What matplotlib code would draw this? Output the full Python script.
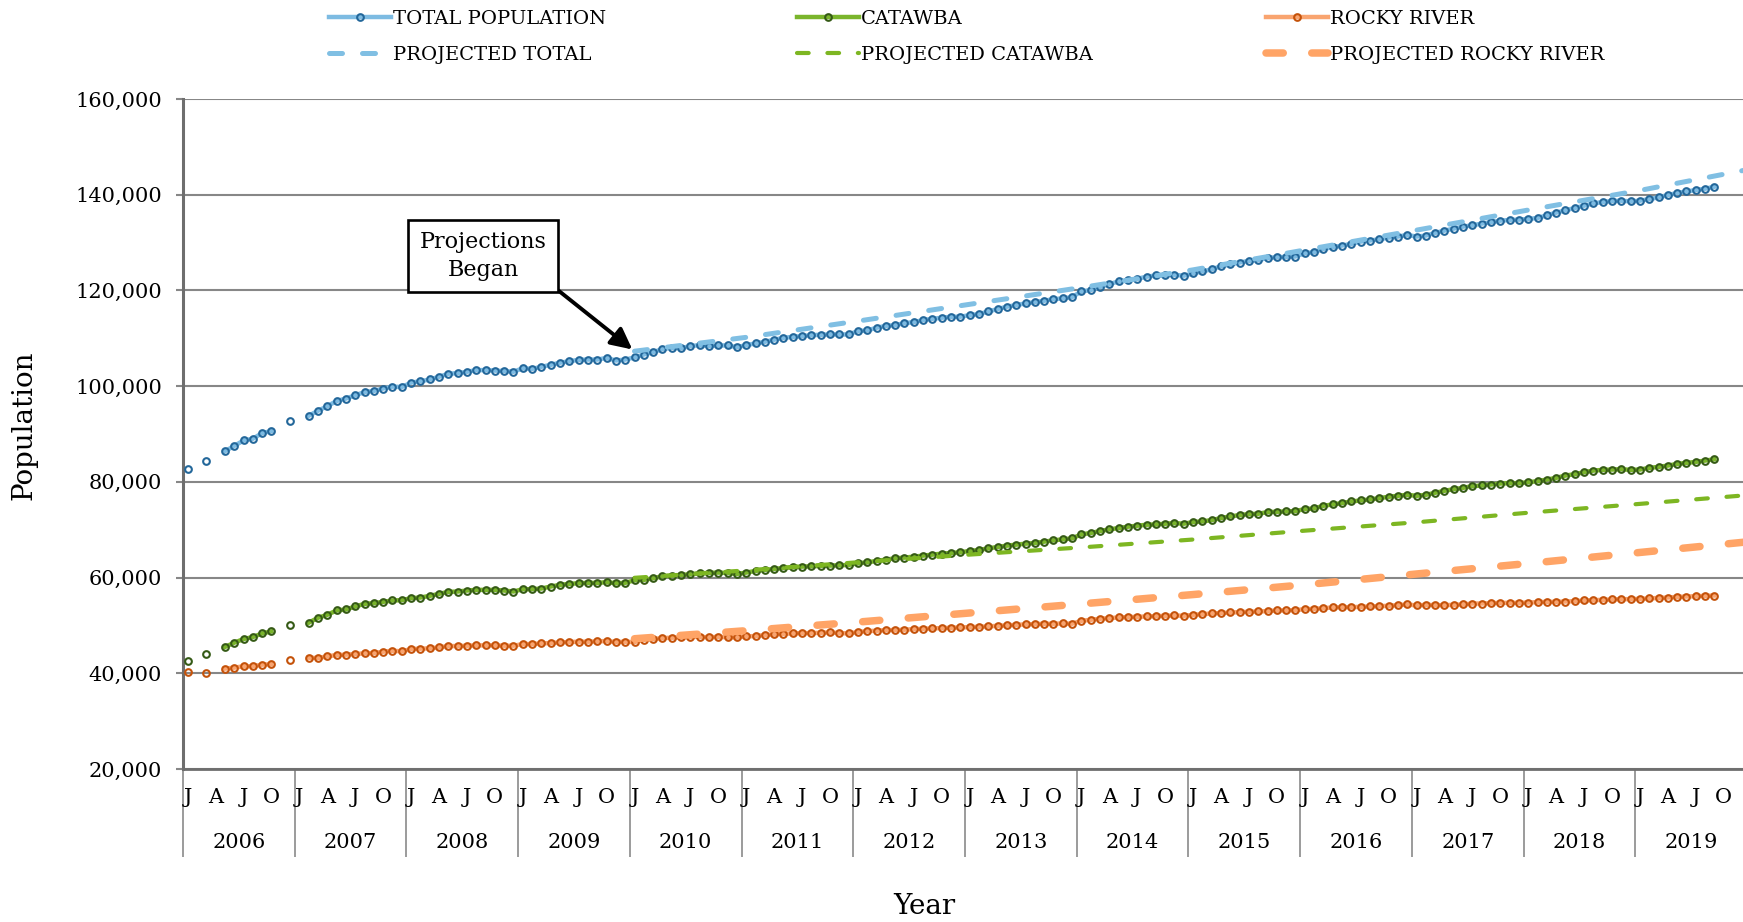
import numpy as np
import matplotlib
matplotlib.use('Agg')
import matplotlib.pyplot as plt
import matplotlib.transforms as mtransforms
from matplotlib.ticker import FuncFormatter

nan = np.nan

years = list(range(2006, 2020))
month_letters = ['J', 'A', 'J', 'O']
month_letter_pos = [0, 3, 6, 9]

# monthly values, Jan 2006 .. Sep 2019 (nan = month missing)
total = [
    82700, nan, 84300, nan, 86400, 87500, 88650, 89000, 90200, 90600, nan, 92750,
    nan, 93800, 94850, 95800, 96900, 97400, 98100, 98750, 99000, 99500, 99900, 99800,
    100750, 101000, 101400, 101950, 102600, 102700, 103000, 103350, 103350, 103250, 103150, 103000,
    103750, 103600, 104050, 104450, 104900, 105200, 105500, 105550, 105550, 105900, 105350, 105550,
    106000, 106600, 107100, 107750, 108000, 107900, 108400, 108550, 108400, 108500, 108500, 108150,
    108570, 108920, 109270, 109700, 110100, 110300, 110450, 110660, 110730, 110800, 110800, 110800,
    111500, 111640, 112200, 112600, 112750, 113170, 113380, 113800, 114080, 114290, 114500, 114500,
    114840, 115050, 115600, 116100, 116600, 116930, 117280, 117560, 117840, 118190, 118330, 118600,
    119800, 120070, 120700, 121320, 121880, 122090, 122440, 122860, 123140, 123140, 123280, 123070,
    123550, 124000, 124400, 125070, 125420, 125830, 126180, 126320, 126800, 126940, 127010, 127080,
    127780, 127990, 128680, 129030, 129380, 129720, 130210, 130420, 130690, 131040, 131250, 131600,
    131250, 131460, 132010, 132500, 132920, 133330, 133610, 133960, 134240, 134580, 134720, 134790,
    134930, 135140, 135690, 136250, 136740, 137220, 137710, 138190, 138470, 138680, 138750, 138610,
    138750, 139100, 139440, 139930, 140350, 140690, 140970, 141250, 141670,
]

catawba = [
    42500, nan, 44100, nan, 45490, 46390, 47150, 47570, 48330, 48750, nan, 50070,
    nan, 50560, 51600, 52220, 53130, 53330, 53960, 54510, 54650, 54930, 55210, 55280,
    55690, 55830, 56180, 56600, 57010, 57080, 57290, 57430, 57430, 57430, 57290, 57080,
    57570, 57570, 57710, 58130, 58470, 58680, 58820, 58890, 58890, 59030, 58820, 58890,
    59440, 59510, 59860, 60280, 60420, 60560, 60690, 60900, 60970, 61040, 60970, 60760,
    61040, 61390, 61600, 61810, 62010, 62150, 62290, 62360, 62430, 62500, 62570, 62640,
    62990, 63190, 63470, 63750, 64030, 64170, 64380, 64580, 64790, 65000, 65140, 65280,
    65560, 65760, 66110, 66390, 66670, 66880, 67080, 67220, 67500, 67780, 67990, 68190,
    69030, 69310, 69720, 70070, 70350, 70630, 70830, 71040, 71110, 71250, 71390, 71250,
    71600, 71740, 72010, 72430, 72780, 73060, 73260, 73330, 73680, 73750, 73820, 73890,
    74310, 74440, 75000, 75280, 75560, 75900, 76110, 76320, 76600, 76880, 77080, 77290,
    77080, 77290, 77710, 78130, 78470, 78750, 79100, 79240, 79440, 79650, 79720, 79720,
    79930, 80140, 80490, 80830, 81320, 81600, 82010, 82360, 82500, 82570, 82640, 82500,
    82570, 82920, 83130, 83400, 83750, 83960, 84170, 84440, 84720,
]

rocky = [
    40280, nan, 40140, nan, 40970, 41180, 41460, 41460, 41810, 41880, nan, 42710,
    nan, 43260, 43190, 43540, 43820, 43890, 44030, 44170, 44240, 44510, 44720, 44580,
    45070, 45140, 45210, 45420, 45690, 45690, 45760, 45830, 45830, 45830, 45760, 45760,
    46110, 46110, 46250, 46320, 46460, 46530, 46600, 46600, 46670, 46740, 46530, 46600,
    46530, 47010, 47150, 47360, 47430, 47500, 47570, 47640, 47500, 47640, 47500, 47500,
    47710, 47780, 47990, 48130, 48260, 48330, 48400, 48400, 48470, 48540, 48400, 48330,
    48610, 48820, 48890, 49030, 49030, 49100, 49240, 49310, 49380, 49440, 49510, 49580,
    49650, 49720, 49790, 49930, 50000, 50140, 50210, 50280, 50350, 50350, 50420, 50350,
    50970, 51180, 51390, 51530, 51670, 51740, 51810, 51880, 51940, 52010, 52080, 52010,
    52220, 52360, 52500, 52600, 52710, 52780, 52850, 52920, 52990, 53130, 53130, 53190,
    53400, 53470, 53610, 53750, 53820, 53820, 53890, 53960, 54030, 54100, 54240, 54380,
    54170, 54310, 54240, 54240, 54310, 54380, 54580, 54580, 54650, 54720, 54720, 54720,
    54790, 54860, 54930, 54930, 55000, 55070, 55210, 55280, 55350, 55420, 55490, 55490,
    55560, 55630, 55760, 55830, 55970, 56040, 56110, 56180, 56250,
]

# projections, one value each January from 2010 on
proj_start = 48
proj_total = [107300, 110200, 113600, 117100, 120600, 124300, 128450, 132600, 136800, 140900, 145400]
proj_catawba = [59950, 61500, 63200, 64800, 66300, 67950, 69800, 71550, 73550, 75400, 77300]
proj_rocky = [47220, 48900, 50700, 52600, 54500, 56450, 58500, 60750, 62950, 65250, 67550]

plt.rcParams['font.family'] = ['DejaVu Serif']

W, H = 1743, 922
fig = plt.figure(figsize=(W / 100, H / 100), dpi=100)
ax = fig.add_axes([183 / W, 153 / H, 1564 / W, 670 / H])

x = np.arange(len(total))
px = proj_start + 12 * np.arange(len(proj_total))

l_tot, = ax.plot(x, total, color='#7dbbe2', lw=3.2, marker='o', ms=4.8, mfc='none',
                 mec='#23679a', mew=1.5, label='TOTAL POPULATION', zorder=3)
l_cat, = ax.plot(x, catawba, color='#7ab52c', lw=3.2, marker='o', ms=4.8, mfc='none',
                 mec='#355a16', mew=1.5, label='CATAWBA', zorder=3)
l_roc, = ax.plot(x, rocky, color='#f9a46f', lw=3.2, marker='o', ms=4.8, mfc='none',
                 mec='#c4520a', mew=1.5, label='ROCKY RIVER', zorder=3)

p_tot, = ax.plot(px, proj_total, color='#80bfe3', lw=3.6, dashes=(2.6, 4.0),
                 dash_capstyle='round', label='PROJECTED TOTAL', zorder=4)
p_cat, = ax.plot(px, proj_catawba, color='#7db622', lw=3.0, dashes=(2.8, 4.5),
                 dash_capstyle='round', label='PROJECTED CATAWBA', zorder=4)
p_roc, = ax.plot(px, proj_rocky, color='#ffa466', lw=5.4, dashes=(2.3, 3.8),
                 dash_capstyle='round', label='PROJECTED ROCKY RIVER', zorder=4)

# axes
ax.set_xlim(-0.5, 12 * len(years) - 0.5)
ax.set_ylim(20000, 160000)
ax.set_yticks(range(20000, 160001, 20000))
ax.yaxis.set_major_formatter(FuncFormatter(lambda v, p: f'{int(v):,}'))
ax.yaxis.grid(True, color='#878787', lw=1.5)
ax.set_axisbelow(True)
for s in ['top', 'right']:
    ax.spines[s].set_visible(False)
ax.spines['left'].set_color('#6e6e6e')
ax.spines['left'].set_linewidth(2.2)
ax.spines['bottom'].set_color('#6e6e6e')
ax.spines['bottom'].set_linewidth(2.0)
ax.tick_params(axis='y', length=5, width=1.5, color='#878787', pad=10, labelsize=15)

ax.set_xticks(np.arange(-0.5, 12 * len(years), 12))
ax.set_xticklabels([])
ax.set_xticks([12 * i + k for i in range(len(years)) for k in month_letter_pos], minor=True)
ax.set_xticklabels(month_letters * len(years), minor=True)
ax.tick_params(axis='x', which='major', length=63, width=1.2, color='#8a8a8a')
ax.tick_params(axis='x', which='minor', length=0, pad=14, labelsize=15)

trans = mtransforms.blended_transform_factory(ax.transData, ax.transAxes)
for i, yr in enumerate(years):
    ax.text(12 * i + 5.5, -0.109, str(yr), transform=trans, ha='center', va='center',
            fontsize=15)

fig.text(24 / W, 1 - 425 / H, 'Population', rotation=90, ha='center', va='center', fontsize=20)
fig.text(924 / W, 1 - 906 / H, 'Year', ha='center', va='center', fontsize=20)

# legend, three columns of two
for i, (a, b) in enumerate([(l_tot, p_tot), (l_cat, p_cat), (l_roc, p_roc)]):
    fig.legend(handles=[a, b], loc='upper left', bbox_to_anchor=([329, 797, 1266][i] / W, 0.989),
               frameon=False, fontsize=14, handlelength=3.2, handletextpad=0.1,
               labelspacing=0.93, borderpad=0, borderaxespad=0)

ax.annotate('Projections\nBegan', xy=(px[0], proj_total[0]), xytext=(483, 666),
            textcoords='figure pixels', ha='center', va='center', ma='center', fontsize=16,
            linespacing=1.35,
            bbox=dict(boxstyle='square,pad=0.5', fc='white', ec='black', lw=1.9),
            arrowprops=dict(arrowstyle='-|>,head_length=0.8,head_width=0.4', color='black',
                            lw=2.8, shrinkA=0, shrinkB=2, relpos=(1, 0)),
            zorder=6)

fig.savefig('out.png', dpi=100)
